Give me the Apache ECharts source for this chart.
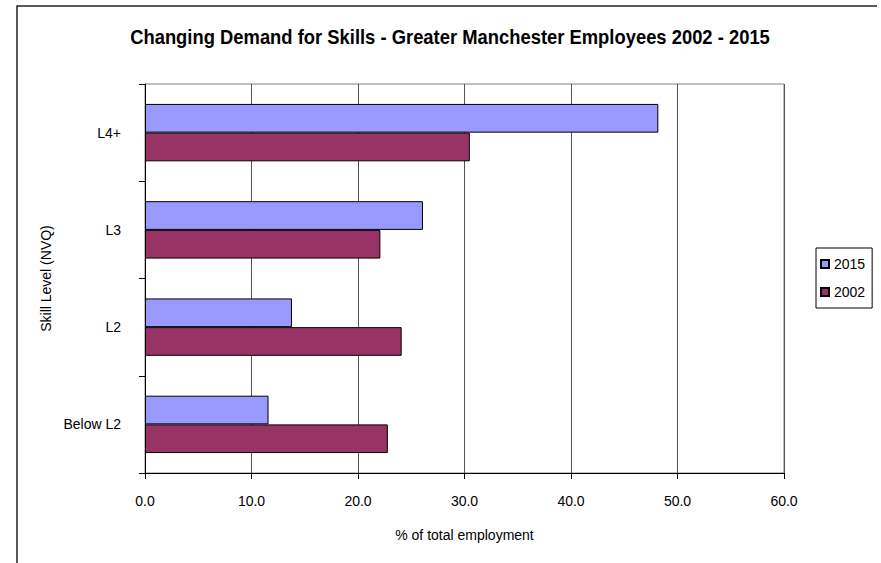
<!DOCTYPE html>
<html>
<head>
<meta charset="utf-8">
<title>Changing Demand for Skills</title>
<script src="https://cdn.jsdelivr.net/npm/echarts@6/dist/echarts.min.js"></script>
<style>
  html, body { margin: 0; padding: 0; background: #fff; }
  #chart { width: 881px; height: 563px; }
</style>
</head>
<body>
<div id="chart"></div>
<script>
// Skill levels (top to bottom) and share of total employment, %
const skillLevels = ['L4+', 'L3', 'L2', 'Below L2'];
const share2015 = [48.2, 26.1, 13.8, 11.6];
const share2002 = [30.5, 22.1, 24.1, 22.8];
const seriesNames = ['2015', '2002'];
const xTicks = { min: 0, max: 60, step: 10 };

const FONT = '"Liberation Sans", Arial, sans-serif';

const chart = echarts.init(document.getElementById('chart'), null, { renderer: 'svg' });

chart.setOption({
  backgroundColor: '#ffffff',
  animation: false,
  textStyle: { fontFamily: FONT, color: '#000' },
  graphic: [
    {
      type: 'polyline',
      shape: { points: [[17, 600], [17, 6], [877, 6]] },
      style: { stroke: '#222', lineWidth: 1.5, fill: null }
    },
    {
      // chart title, slightly condensed
      type: 'text',
      x: 450, y: 37,
      scaleX: 0.92,
      style: {
        text: 'Changing Demand for Skills - Greater Manchester Employees 2002 - 2015',
        fontFamily: FONT, fontSize: 20, fontWeight: 'bold',
        fill: '#000', align: 'center', verticalAlign: 'middle'
      }
    }
  ],
  legend: {
    orient: 'vertical',
    left: 816, top: 248,
    data: seriesNames,
    itemWidth: 8, itemHeight: 8,
    itemGap: 14,
    padding: [9, 7, 9, 4],
    borderColor: '#000', borderWidth: 1,
    icon: 'rect',
    textStyle: { fontFamily: FONT, fontSize: 14, color: '#000' }
  },
  grid: {
    left: 145, top: 84, width: 639, height: 389,
    show: true, borderColor: '#808080', borderWidth: 1, backgroundColor: '#fff'
  },
  xAxis: {
    type: 'value',
    min: xTicks.min, max: xTicks.max, interval: xTicks.step,
    name: '% of total employment',
    nameLocation: 'middle', nameGap: 55,
    nameTextStyle: { fontFamily: FONT, fontSize: 14, color: '#000' },
    axisLine: { show: true, lineStyle: { color: '#000', width: 1 } },
    axisTick: { show: true, length: 6, lineStyle: { color: '#000' } },
    axisLabel: {
      margin: 21, fontFamily: FONT, fontSize: 14, color: '#000',
      formatter: v => v.toFixed(1)
    },
    splitLine: { show: true, lineStyle: { color: '#555', width: 1 } }
  },
  yAxis: {
    type: 'category',
    inverse: true,
    data: skillLevels,
    name: 'Skill Level (NVQ)',
    nameLocation: 'middle', nameGap: 91, nameRotate: 90,
    nameTextStyle: { fontFamily: FONT, fontSize: 14, color: '#000' },
    axisLine: { show: true, lineStyle: { color: '#000', width: 1 } },
    axisTick: { show: true, length: 6, lineStyle: { color: '#000' } },
    axisLabel: { margin: 24, fontFamily: FONT, fontSize: 14, color: '#000' },
    splitLine: { show: false }
  },
  series: [
    {
      name: seriesNames[0], type: 'bar', data: share2015,
      barGap: '0%', barCategoryGap: '41%',
      itemStyle: { color: '#9999FF', borderColor: '#000', borderWidth: 1 }
    },
    {
      name: seriesNames[1], type: 'bar', data: share2002,
      barGap: '0%', barCategoryGap: '41%',
      itemStyle: { color: '#993366', borderColor: '#000', borderWidth: 1 }
    }
  ]
});
</script>
</body>
</html>
